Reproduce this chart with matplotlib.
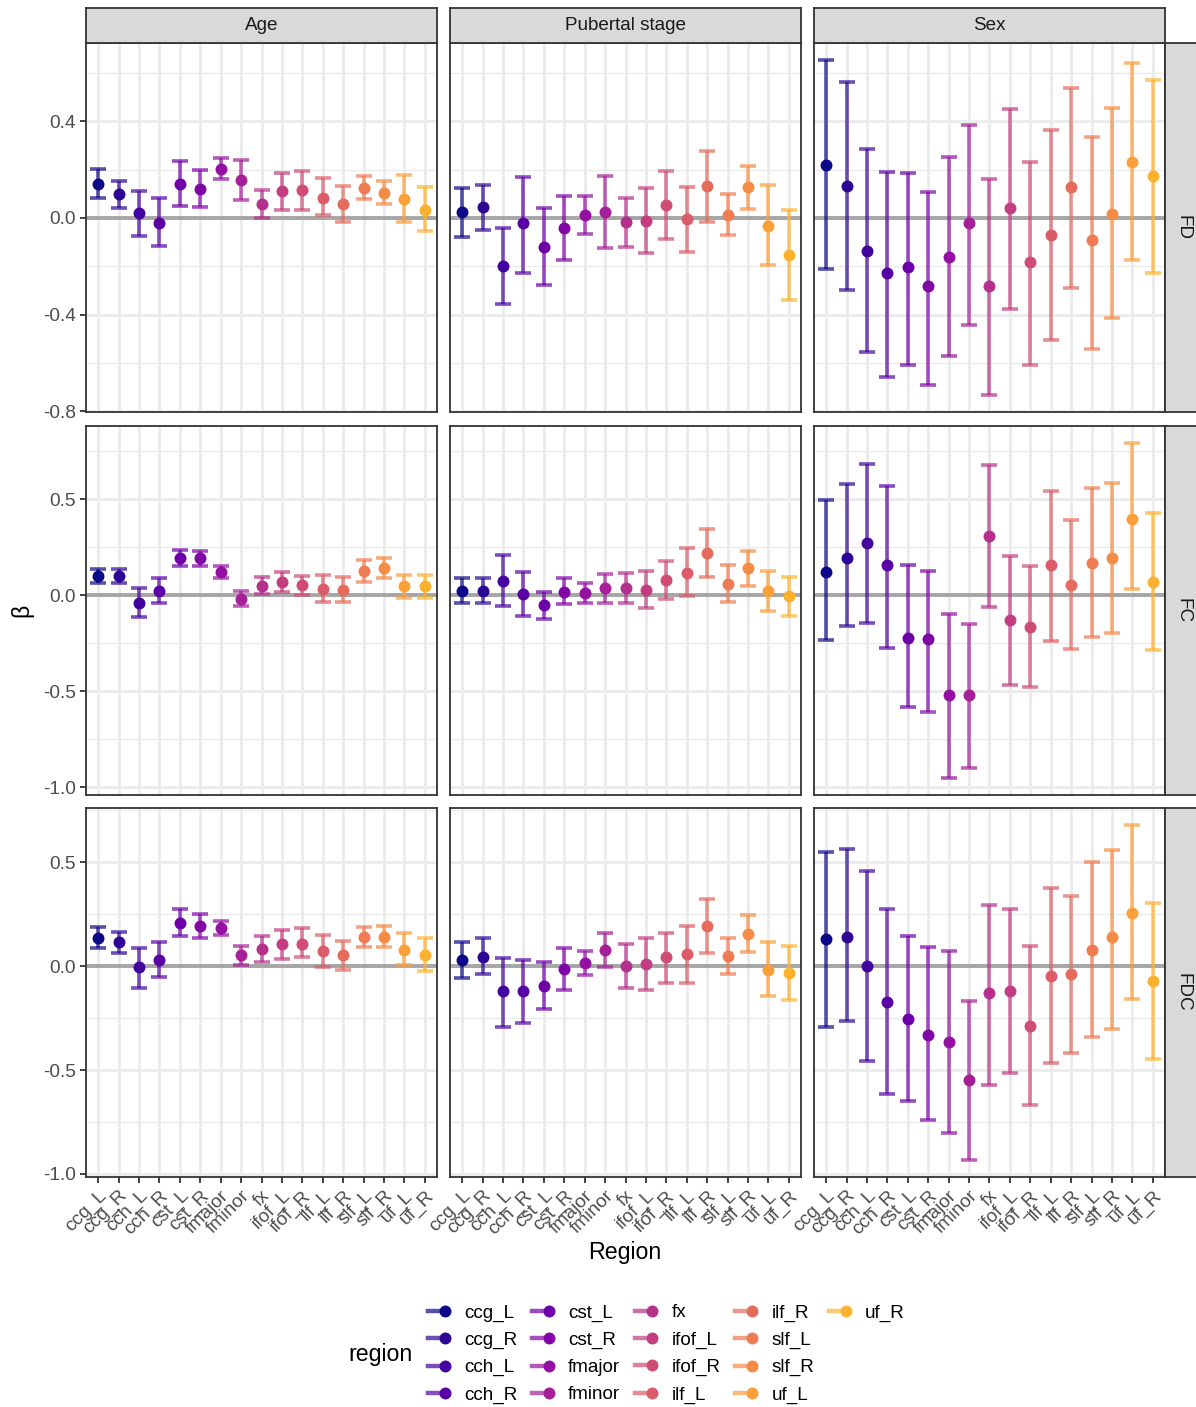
import numpy as np
import matplotlib
matplotlib.use('Agg')
from matplotlib import pyplot as plt
from matplotlib.lines import Line2D
from matplotlib.legend_handler import HandlerTuple
from matplotlib.ticker import MultipleLocator, FormatStrFormatter

plt.rcParams['font.family'] = ['Liberation Sans', 'DejaVu Sans']
plt.rcParams['axes.unicode_minus'] = False

regions = ['ccg_L', 'ccg_R', 'cch_L', 'cch_R', 'cst_L', 'cst_R', 'fmajor', 'fminor', 'fx',
           'ifof_L', 'ifof_R', 'ilf_L', 'ilf_R', 'slf_L', 'slf_R', 'uf_L', 'uf_R']
predictors = ['Age', 'Pubertal stage', 'Sex']
measures = ['FD', 'FC', 'FDC']

# ---- FD ----
fd_age = [0.139, 0.098, 0.019, -0.019, 0.140, 0.121, 0.203, 0.158, 0.059, 0.110, 0.114, 0.084, 0.056, 0.124, 0.103, 0.080, 0.033]
fd_age_lo = [0.084, 0.041, -0.076, -0.118, 0.051, 0.045, 0.159, 0.074, 0.000, 0.033, 0.033, 0.014, -0.016, 0.077, 0.056, -0.016, -0.056]
fd_age_hi = [0.201, 0.153, 0.113, 0.082, 0.235, 0.197, 0.247, 0.239, 0.115, 0.187, 0.194, 0.165, 0.131, 0.173, 0.154, 0.177, 0.129]

fd_pub = [0.026, 0.045, -0.199, -0.021, -0.121, -0.041, 0.014, 0.025, -0.016, -0.012, 0.052, -0.004, 0.131, 0.012, 0.126, -0.032, -0.154]
fd_pub_lo = [-0.077, -0.051, -0.357, -0.228, -0.279, -0.172, -0.065, -0.126, -0.121, -0.143, -0.088, -0.140, -0.016, -0.069, 0.037, -0.195, -0.340]
fd_pub_hi = [0.124, 0.137, -0.043, 0.170, 0.040, 0.091, 0.091, 0.173, 0.084, 0.125, 0.194, 0.129, 0.276, 0.098, 0.213, 0.137, 0.032]

fd_sex = [0.219, 0.133, -0.136, -0.227, -0.204, -0.280, -0.162, -0.019, -0.280, 0.040, -0.181, -0.070, 0.128, -0.093, 0.018, 0.230, 0.175]
fd_sex_lo = [-0.213, -0.298, -0.554, -0.656, -0.609, -0.689, -0.569, -0.444, -0.733, -0.375, -0.609, -0.506, -0.289, -0.540, -0.414, -0.175, -0.228]
fd_sex_hi = [0.654, 0.561, 0.285, 0.192, 0.187, 0.106, 0.250, 0.386, 0.159, 0.452, 0.230, 0.362, 0.539, 0.333, 0.455, 0.639, 0.572]

# ---- FC ----
fc_age = [0.100, 0.100, -0.040, 0.023, 0.192, 0.192, 0.120, -0.019, 0.050, 0.069, 0.054, 0.031, 0.026, 0.128, 0.142, 0.047, 0.047]
fc_age_lo = [0.064, 0.064, -0.113, -0.043, 0.151, 0.153, 0.088, -0.055, 0.005, 0.016, 0.003, -0.036, -0.036, 0.071, 0.088, -0.012, -0.012]
fc_age_hi = [0.139, 0.139, 0.040, 0.088, 0.234, 0.231, 0.153, 0.023, 0.097, 0.120, 0.102, 0.104, 0.094, 0.184, 0.196, 0.106, 0.106]

fc_pub = [0.024, 0.022, 0.074, 0.005, -0.052, 0.019, 0.012, 0.038, 0.040, 0.029, 0.080, 0.118, 0.220, 0.059, 0.140, 0.022, -0.003]
fc_pub_lo = [-0.040, -0.040, -0.055, -0.107, -0.126, -0.047, -0.042, -0.040, -0.038, -0.064, -0.019, -0.005, 0.093, -0.036, 0.050, -0.081, -0.107]
fc_pub_hi = [0.090, 0.088, 0.208, 0.119, 0.019, 0.092, 0.064, 0.112, 0.116, 0.126, 0.180, 0.246, 0.343, 0.159, 0.232, 0.126, 0.095]

fc_sex = [0.121, 0.196, 0.270, 0.159, -0.221, -0.230, -0.519, -0.519, 0.310, -0.130, -0.164, 0.159, 0.054, 0.166, 0.194, 0.398, 0.071]
fc_sex_lo = [-0.234, -0.159, -0.145, -0.275, -0.581, -0.607, -0.953, -0.898, -0.062, -0.469, -0.479, -0.240, -0.280, -0.215, -0.196, 0.035, -0.285]
fc_sex_hi = [0.498, 0.580, 0.682, 0.571, 0.156, 0.128, -0.099, -0.151, 0.676, 0.204, 0.152, 0.542, 0.393, 0.561, 0.583, 0.794, 0.429]

# ---- FDC ----
fdc_age = [0.138, 0.115, -0.006, 0.032, 0.207, 0.194, 0.183, 0.053, 0.083, 0.106, 0.109, 0.074, 0.053, 0.141, 0.143, 0.080, 0.056]
fdc_age_lo = [0.090, 0.063, -0.103, -0.051, 0.144, 0.138, 0.151, 0.006, 0.019, 0.035, 0.043, -0.003, -0.016, 0.093, 0.093, 0.006, -0.021]
fdc_age_hi = [0.188, 0.167, 0.090, 0.117, 0.274, 0.252, 0.218, 0.098, 0.144, 0.176, 0.183, 0.152, 0.120, 0.189, 0.194, 0.160, 0.135]

fdc_pub = [0.029, 0.046, -0.119, -0.117, -0.093, -0.013, 0.014, 0.080, 0.003, 0.013, 0.045, 0.058, 0.194, 0.050, 0.157, -0.016, -0.034]
fdc_pub_lo = [-0.056, -0.037, -0.292, -0.272, -0.204, -0.114, -0.042, -0.003, -0.103, -0.114, -0.079, -0.083, 0.063, -0.037, 0.067, -0.144, -0.163]
fdc_pub_hi = [0.119, 0.135, 0.038, 0.029, 0.018, 0.090, 0.075, 0.160, 0.109, 0.138, 0.162, 0.196, 0.322, 0.136, 0.245, 0.119, 0.096]

fdc_sex = [0.131, 0.143, 0.002, -0.171, -0.256, -0.329, -0.364, -0.550, -0.130, -0.117, -0.287, -0.045, -0.038, 0.077, 0.139, 0.256, -0.071]
fdc_sex_lo = [-0.292, -0.263, -0.457, -0.614, -0.651, -0.739, -0.804, -0.934, -0.571, -0.513, -0.668, -0.465, -0.417, -0.340, -0.304, -0.159, -0.446]
fdc_sex_hi = [0.551, 0.563, 0.458, 0.276, 0.146, 0.091, 0.074, -0.168, 0.296, 0.276, 0.098, 0.375, 0.338, 0.502, 0.561, 0.681, 0.306]

panels = {
    'FD': [(fd_age, fd_age_lo, fd_age_hi), (fd_pub, fd_pub_lo, fd_pub_hi), (fd_sex, fd_sex_lo, fd_sex_hi)],
    'FC': [(fc_age, fc_age_lo, fc_age_hi), (fc_pub, fc_pub_lo, fc_pub_hi), (fc_sex, fc_sex_lo, fc_sex_hi)],
    'FDC': [(fdc_age, fdc_age_lo, fdc_age_hi), (fdc_pub, fdc_pub_lo, fdc_pub_hi), (fdc_sex, fdc_sex_lo, fdc_sex_hi)],
}
row_step = {'FD': 0.4, 'FC': 0.5, 'FDC': 0.5}

colors = plt.cm.plasma(np.linspace(0, 0.83, len(regions)))

# layout in pixels
W, H = 1196, 1407
def frac(l, t, w, h):
    return [l / W, 1 - (t + h) / H, w / W, h / H]

col_left = [86, 450, 814]
row_top = [43, 426, 808]
pw, ph = 351, 369
strip = 35

fig = plt.figure(figsize=(W / 100, H / 100), dpi=100)
x = np.arange(len(regions))

for r, meas in enumerate(measures):
    allv = np.concatenate([np.r_[lo, hi] for _, lo, hi in panels[meas]])
    pad = 0.05 * (allv.max() - allv.min())
    ylim = (allv.min() - pad, allv.max() + pad)
    for c, pred in enumerate(predictors):
        est, lo, hi = [np.asarray(a) for a in panels[meas][c]]
        ax = fig.add_axes(frac(col_left[c], row_top[r], pw, ph))
        ax.set_xlim(-0.6, len(regions) - 0.4)
        ax.set_ylim(*ylim)
        ax.yaxis.set_major_locator(MultipleLocator(row_step[meas]))
        ax.yaxis.set_minor_locator(MultipleLocator(row_step[meas] / 2))
        ax.yaxis.set_major_formatter(FormatStrFormatter('%.1f'))
        ax.set_xticks(x)
        ax.set_axisbelow(True)
        ax.grid(which='major', color='#EBEBEB', lw=2.0)
        ax.grid(which='minor', axis='y', color='#EBEBEB', lw=1.0)
        ax.axhline(0, color='#A6A6A6', lw=2.8, zorder=1.5)
        for i in range(len(regions)):
            ax.errorbar(x[i], est[i], yerr=[[est[i] - lo[i]], [hi[i] - est[i]]], fmt='none',
                        ecolor=colors[i], alpha=0.7, elinewidth=2.6, capsize=5.6,
                        capthick=2.6, zorder=2)
            ax.plot(x[i], est[i], 'o', color=colors[i], ms=8.6, mec='none', zorder=3)
        for s in ax.spines.values():
            s.set_color('#333333')
            s.set_linewidth(1.3)
        ax.tick_params(axis='y', which='minor', length=0)
        if c == 0:
            ax.tick_params(axis='y', which='major', length=4.3, width=1.3, color='#333333',
                           labelcolor='#4D4D4D', labelsize=13.8, pad=3)
        else:
            ax.tick_params(axis='y', which='major', length=0, labelleft=False)
        if r == len(measures) - 1:
            ax.tick_params(axis='x', length=4.3, width=1.3, color='#333333', pad=3)
            ax.set_xticklabels(regions, rotation=45, ha='right', va='top',
                               rotation_mode='anchor', color='#4D4D4D', fontsize=13.8)
        else:
            ax.tick_params(axis='x', length=0, labelbottom=False)

# facet strips
for c, pred in enumerate(predictors):
    sa = fig.add_axes(frac(col_left[c], row_top[0] - strip, pw, strip))
    sa.set_facecolor('#D9D9D9')
    sa.set_xticks([])
    sa.set_yticks([])
    for s in sa.spines.values():
        s.set_color('#333333')
        s.set_linewidth(1.3)
    sa.text(0.5, 0.5, pred, ha='center', va='center', fontsize=13.6, color='#1A1A1A',
            transform=sa.transAxes)
for r, meas in enumerate(measures):
    sa = fig.add_axes(frac(col_left[2] + pw, row_top[r], strip, ph))
    sa.set_facecolor('#D9D9D9')
    sa.set_xticks([])
    sa.set_yticks([])
    for s in sa.spines.values():
        s.set_color('#333333')
        s.set_linewidth(1.3)
    sa.text(0.5, 0.5, meas, ha='center', va='center', rotation=-90, fontsize=13.6,
            color='#1A1A1A', transform=sa.transAxes)

# axis titles
fig.text(22 / W, 1 - 610 / H, 'β', rotation=90, ha='center', va='center', fontsize=16.7)
fig.text(625 / W, 1 - 1252 / H, 'Region', ha='center', va='center', fontsize=16.7)

# legend
handles = [(Line2D([], [], color=col, lw=3.2, alpha=0.7),
            Line2D([], [], color=col, marker='o', ls='', ms=8.6, mec='none')) for col in colors]
labels = list(regions)
for _ in range(3):
    handles.append(Line2D([], [], color='none'))
    labels.append('')
fig.legend(handles, labels, ncol=5, loc='center left', bbox_to_anchor=(428 / W, 1 - 1354 / H),
           frameon=False, fontsize=13.6, handlelength=1.2, handletextpad=0.7,
           columnspacing=0.8, labelspacing=0.53, borderpad=0, borderaxespad=0,
           handler_map={tuple: HandlerTuple(ndivide=None)})
fig.text(381 / W, 1 - 1355 / H, 'region', ha='center', va='center', fontsize=16.7)

fig.savefig('out.png', dpi=100)
